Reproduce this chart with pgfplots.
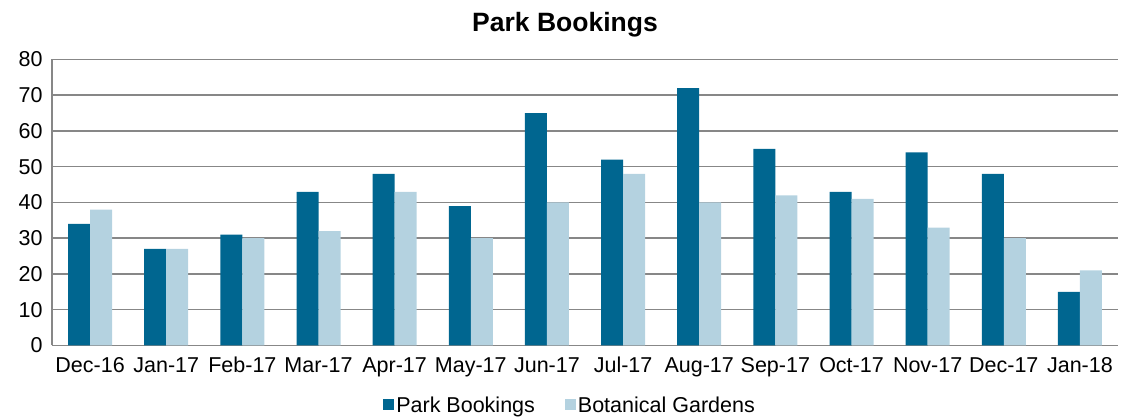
\documentclass[border=0pt]{standalone}
\usepackage{pgfplots}
\pgfplotsset{compat=1.18}
\usepackage{fontspec}
\setmainfont{Liberation Sans}
\definecolor{parkc}{HTML}{006690}
\definecolor{botc}{HTML}{B4D2E0}
\definecolor{gridc}{HTML}{878787}
\begin{document}
\begin{tikzpicture}
\useasboundingbox (0,0) rectangle (1126pt,419pt);
\node[font=\fontsize{26.5}{30}\selectfont\bfseries] at (565pt,394pt) {Park Bookings};
\begin{axis}[
  at={(52pt,73.5pt)}, anchor=south west,
  scale only axis, width=1066pt, height=286pt,
  ybar=0pt, bar width=22pt,
  xmin=-0.5, xmax=13.5, ymin=0, ymax=80,
  ytick={0,10,...,80},
  xtick=data,
  xticklabels={Dec-16,Jan-17,Feb-17,Mar-17,Apr-17,May-17,Jun-17,Jul-17,Aug-17,Sep-17,Oct-17,Nov-17,Dec-17,Jan-18},
  tick style={draw=none},
  axis x line*=bottom, axis y line*=left,
  axis line style={draw=gridc, line width=1.5pt, -},
  ymajorgrids, grid style={draw=gridc, line width=1.5pt},
  ticklabel style={font=\fontsize{21.5}{24}\selectfont},
  /pgf/number format/assume math mode=true,
  yticklabel style={xshift=-6pt},
  xticklabel style={yshift=-4pt},
  legend style={at={(0.486,-0.208)}, anchor=center, draw=none, legend columns=2,
    font=\fontsize{21.5}{24}\selectfont, column sep=0pt,
    /tikz/every even column/.append style={column sep=28pt},
    nodes={inner sep=2pt}},
  legend image code/.code={\fill[#1] (0pt,-5.5pt) rectangle (11pt,5.5pt);},
]
\addplot[fill=parkc, draw=none] coordinates {(0,34)(1,27)(2,31)(3,43)(4,48)(5,39)(6,65)(7,52)(8,72)(9,55)(10,43)(11,54)(12,48)(13,15)};
\addplot[fill=botc, draw=none] coordinates {(0,38)(1,27)(2,30)(3,32)(4,43)(5,30)(6,40)(7,48)(8,40)(9,42)(10,41)(11,33)(12,30)(13,21)};
\legend{Park Bookings, Botanical Gardens}
\end{axis}
\end{tikzpicture}
\end{document}
